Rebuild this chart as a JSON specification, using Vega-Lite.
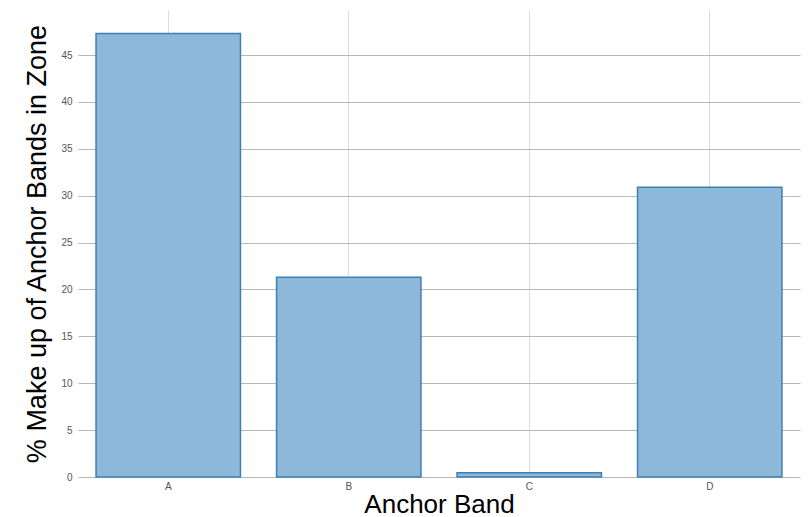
{
  "$schema": "https://vega.github.io/schema/vega-lite/v6.json",
  "width": 722,
  "height": 467,
  "autosize": {"type": "none"},
  "padding": {"left": 78, "top": 10, "right": 11, "bottom": 40},
  "background": "white",
  "config": {
    "view": {"stroke": null},
    "font": "Liberation Sans"
  },
  "data": {
    "values": [
      {"band": "A", "pct": 47.3},
      {"band": "B", "pct": 21.3},
      {"band": "C", "pct": 0.45},
      {"band": "D", "pct": 30.9}
    ]
  },
  "mark": {"type": "bar", "fill": "#8DB8D9", "stroke": "#3F80B2", "strokeWidth": 1.5},
  "encoding": {
    "x": {
      "field": "band",
      "type": "nominal",
      "scale": {"paddingInner": 0.2, "paddingOuter": 0.1},
      "axis": {
        "title": "Anchor Band",
        "titleFontSize": 26,
        "titleFontWeight": "normal",
        "titleColor": "#000",
        "titleFont": "Liberation Sans",
        "titlePadding": 0,
        "labelAngle": 0,
        "labelFontSize": 10,
        "labelColor": "#555",
        "labelPadding": 4,
        "domain": false,
        "ticks": false,
        "grid": true,
        "gridColor": "#dcdcdc",
        "gridWidth": 1,
        "bandPosition": 0.5
      }
    },
    "y": {
      "field": "pct",
      "type": "quantitative",
      "scale": {"domain": [0, 49.8], "nice": false, "zero": true},
      "axis": {
        "title": "% Make up of Anchor Bands in Zone",
        "titleFontSize": 27,
        "titleFontWeight": "normal",
        "titleColor": "#000",
        "titleFont": "Liberation Sans",
        "titlePadding": 9,
        "values": [0, 5, 10, 15, 20, 25, 30, 35, 40, 45],
        "labelFontSize": 10,
        "labelColor": "#555",
        "labelPadding": 6,
        "domain": false,
        "ticks": false,
        "grid": true,
        "gridColor": "#b8b8b8",
        "gridWidth": 1
      }
    }
  }
}
